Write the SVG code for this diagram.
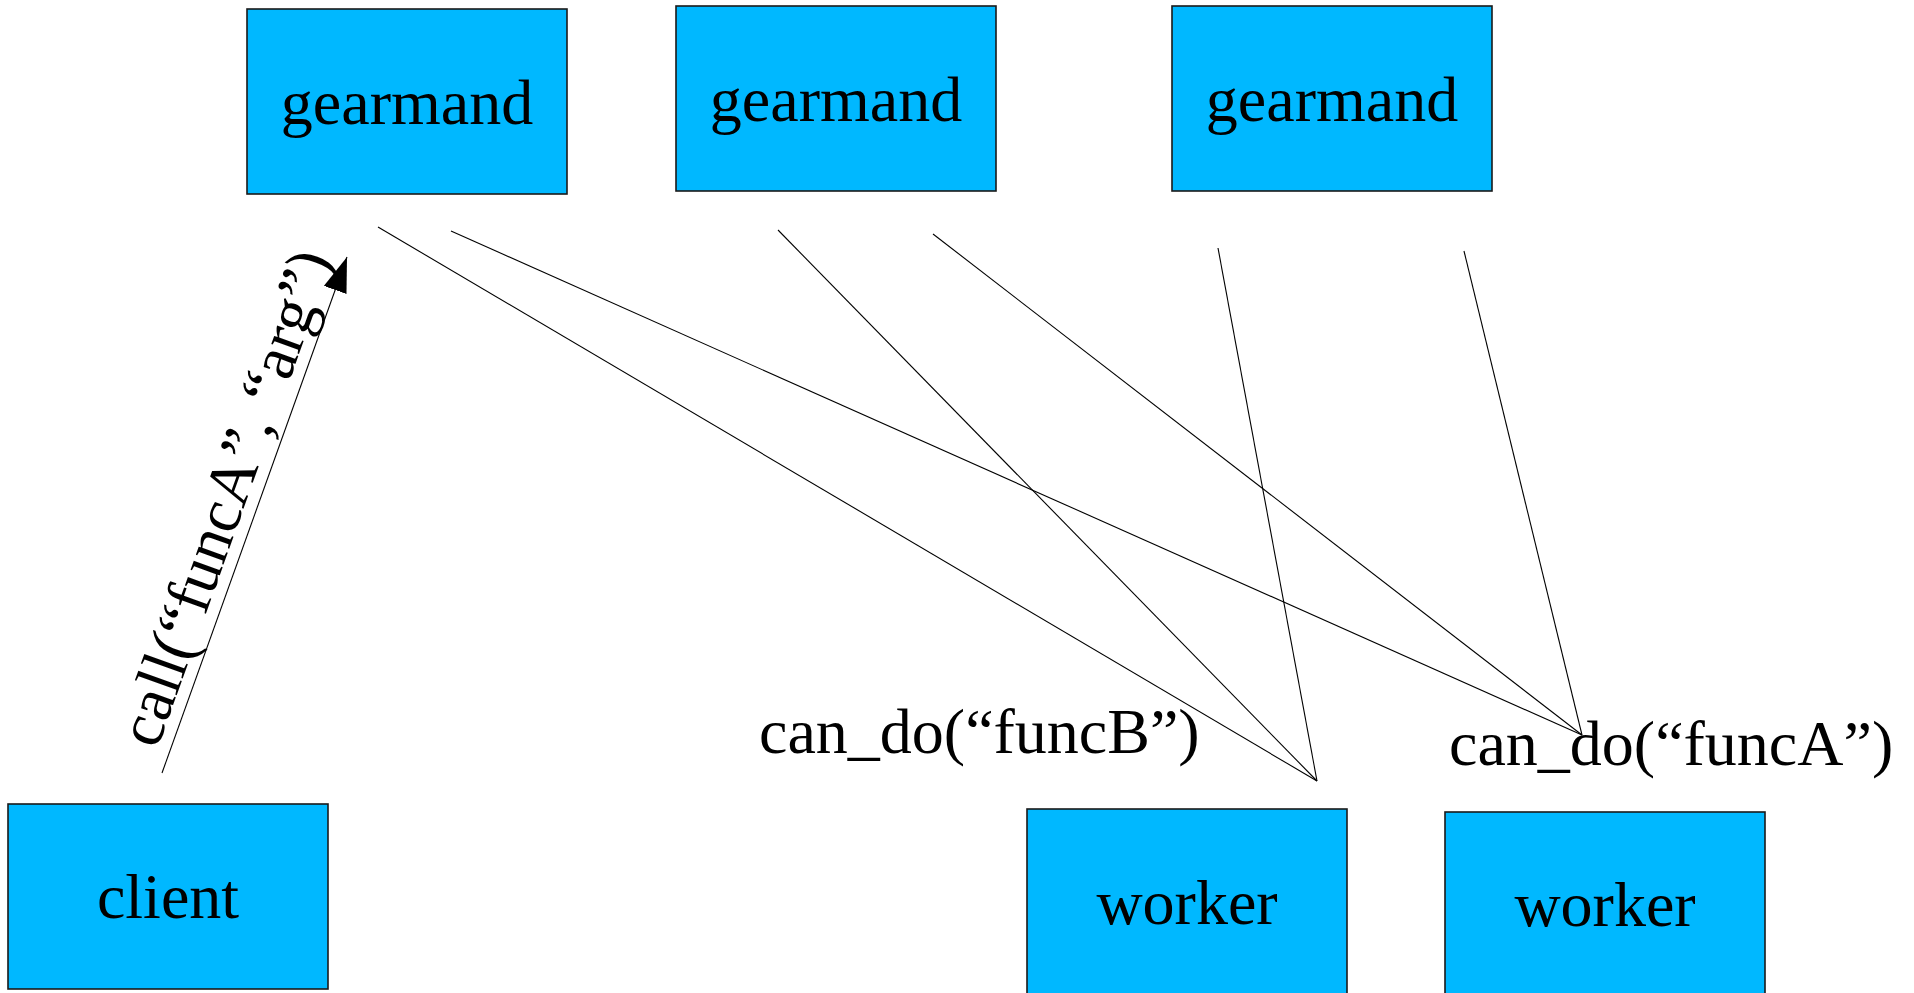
<svg xmlns="http://www.w3.org/2000/svg" width="1914" height="993" viewBox="0 0 1914 993">
<style>
.box{fill:#00B8FF;stroke:#1a1a1a;stroke-width:1.6}
.lbl{font-family:"Liberation Serif","Times New Roman",serif;font-size:64px;fill:#000}
.mid{text-anchor:middle}
.conn{stroke:#000;stroke-width:1.1;fill:none}
</style>
<defs>
<marker id="arrow" markerUnits="userSpaceOnUse" markerWidth="36" markerHeight="24" refX="35" refY="12" orient="auto">
<path d="M0,0 L35,12 L0,24 z" fill="#000"/>
</marker>
</defs>
<rect width="1914" height="993" fill="#fff"/>
<g id="gearmand1"><rect class="box" x="247" y="9" width="320" height="185"/><text class="lbl mid" x="407" y="124">gearmand</text></g>
<g id="gearmand2"><rect class="box" x="676" y="6" width="320" height="185"/><text class="lbl mid" x="836" y="121">gearmand</text></g>
<g id="gearmand3"><rect class="box" x="1172" y="6" width="320" height="185"/><text class="lbl mid" x="1332" y="121">gearmand</text></g>
<g id="client"><rect class="box" x="8" y="804" width="320" height="185"/><text class="lbl mid" x="168" y="918">client</text></g>
<g id="worker1"><rect class="box" x="1027" y="809" width="320" height="185"/><text class="lbl mid" x="1187" y="924">worker</text></g>
<g id="worker2"><rect class="box" x="1445" y="812" width="320" height="185"/><text class="lbl mid" x="1605" y="926">worker</text></g>
<g id="connectors">
<line class="conn" x1="378" y1="227" x2="1317" y2="781"/>
<line class="conn" x1="451" y1="231" x2="1582" y2="735"/>
<line class="conn" x1="778" y1="230" x2="1317" y2="781"/>
<line class="conn" x1="933" y1="234" x2="1582" y2="735"/>
<line class="conn" x1="1218" y1="248" x2="1317" y2="781"/>
<line class="conn" x1="1464" y1="251" x2="1582" y2="735"/>
<line class="conn" x1="162" y1="773" x2="347" y2="257" marker-end="url(#arrow)"/>
</g>
<g id="labels">
<text class="lbl" x="0" y="0" transform="translate(157,750) rotate(-70.27)">call(“funcA”, “arg”)</text>
<text class="lbl" x="759" y="753">can_do(“funcB”)</text>
<text class="lbl" x="1449" y="765">can_do(“funcA”)</text>
</g>
</svg>
